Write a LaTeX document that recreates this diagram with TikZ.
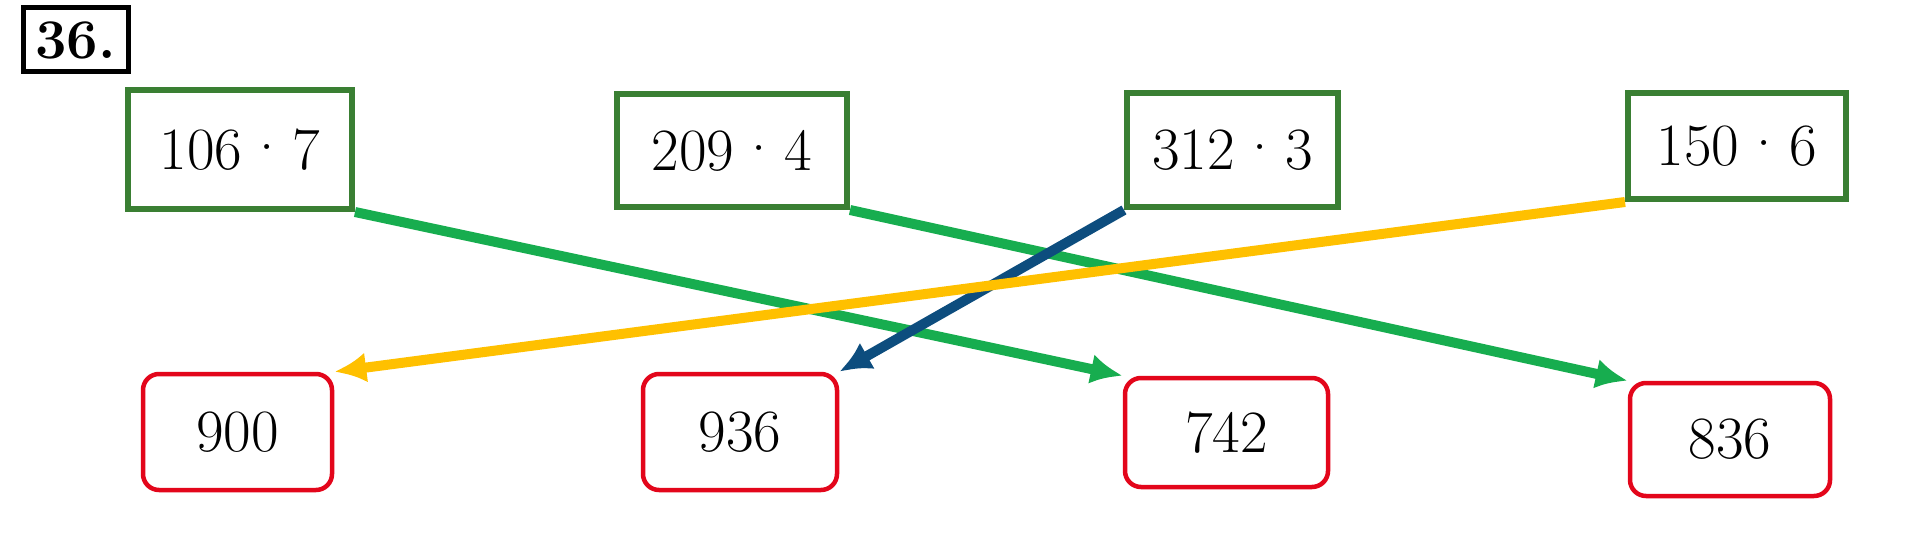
\documentclass[tikz,border=0pt]{standalone}
\usetikzlibrary{arrows.meta}
\definecolor{framegreen}{HTML}{3A7F33}
\definecolor{framered}{HTML}{E3061B}
\definecolor{linkgreen}{HTML}{17AD4F}
\definecolor{linkblue}{HTML}{0D4D7E}
\definecolor{linkamber}{HTML}{FFC000}
\newcommand{\by}{\hspace{0.06em}\raisebox{0.03em}{\textperiodcentered}\hspace{0.06em}}

\begin{document}
\begin{tikzpicture}[x=1pt,y=-1pt,
  task/.style={draw=framegreen,line width=6pt,inner sep=0pt,font=\fontsize{60}{64}\selectfont},
  answer/.style={draw=framered,line width=4.5pt,rounded corners=16pt,inner sep=0pt,font=\fontsize{60}{64}\selectfont},
  link/.style={line width=10pt,-{Latex[length=32pt,width=30pt]}}]
  \useasboundingbox (0,0) rectangle (1911,545);
  \node[draw=black,line width=5pt,inner sep=0pt,minimum width=105pt,minimum height=64pt,
    font=\bfseries\fontsize{56}{60}\selectfont] (num) at (75.5,40){36.};
  % products
  \node[task,minimum width=224pt,minimum height=119pt] (p1) at (240,149.5){106\by7};
  \node[task,minimum width=230pt,minimum height=113pt] (p2) at (732,150.5){209\by4};
  \node[task,minimum width=211pt,minimum height=114pt] (p3) at (1232.5,150){312\by3};
  \node[task,minimum width=218pt,minimum height=106pt] (p4) at (1737,146){150\by6};
  % results
  \node[answer,minimum width=189pt,minimum height=116pt] (r1) at (237.5,432){900};
  \node[answer,minimum width=194pt,minimum height=116pt] (r2) at (740,432){936};
  \node[answer,minimum width=203pt,minimum height=109pt] (r3) at (1226.5,432.5){742};
  \node[answer,minimum width=200pt,minimum height=113pt] (r4) at (1730,439.5){836};
  % matching
  \draw[link,linkgreen] (p1.south east) -- (r3.north west);
  \draw[link,linkgreen] (p2.south east) -- (r4.north west);
  \draw[link,linkblue] (p3.south west) -- (r2.north east);
  \draw[link,linkamber] (p4.south west) -- (r1.north east);
\end{tikzpicture}
\end{document}
